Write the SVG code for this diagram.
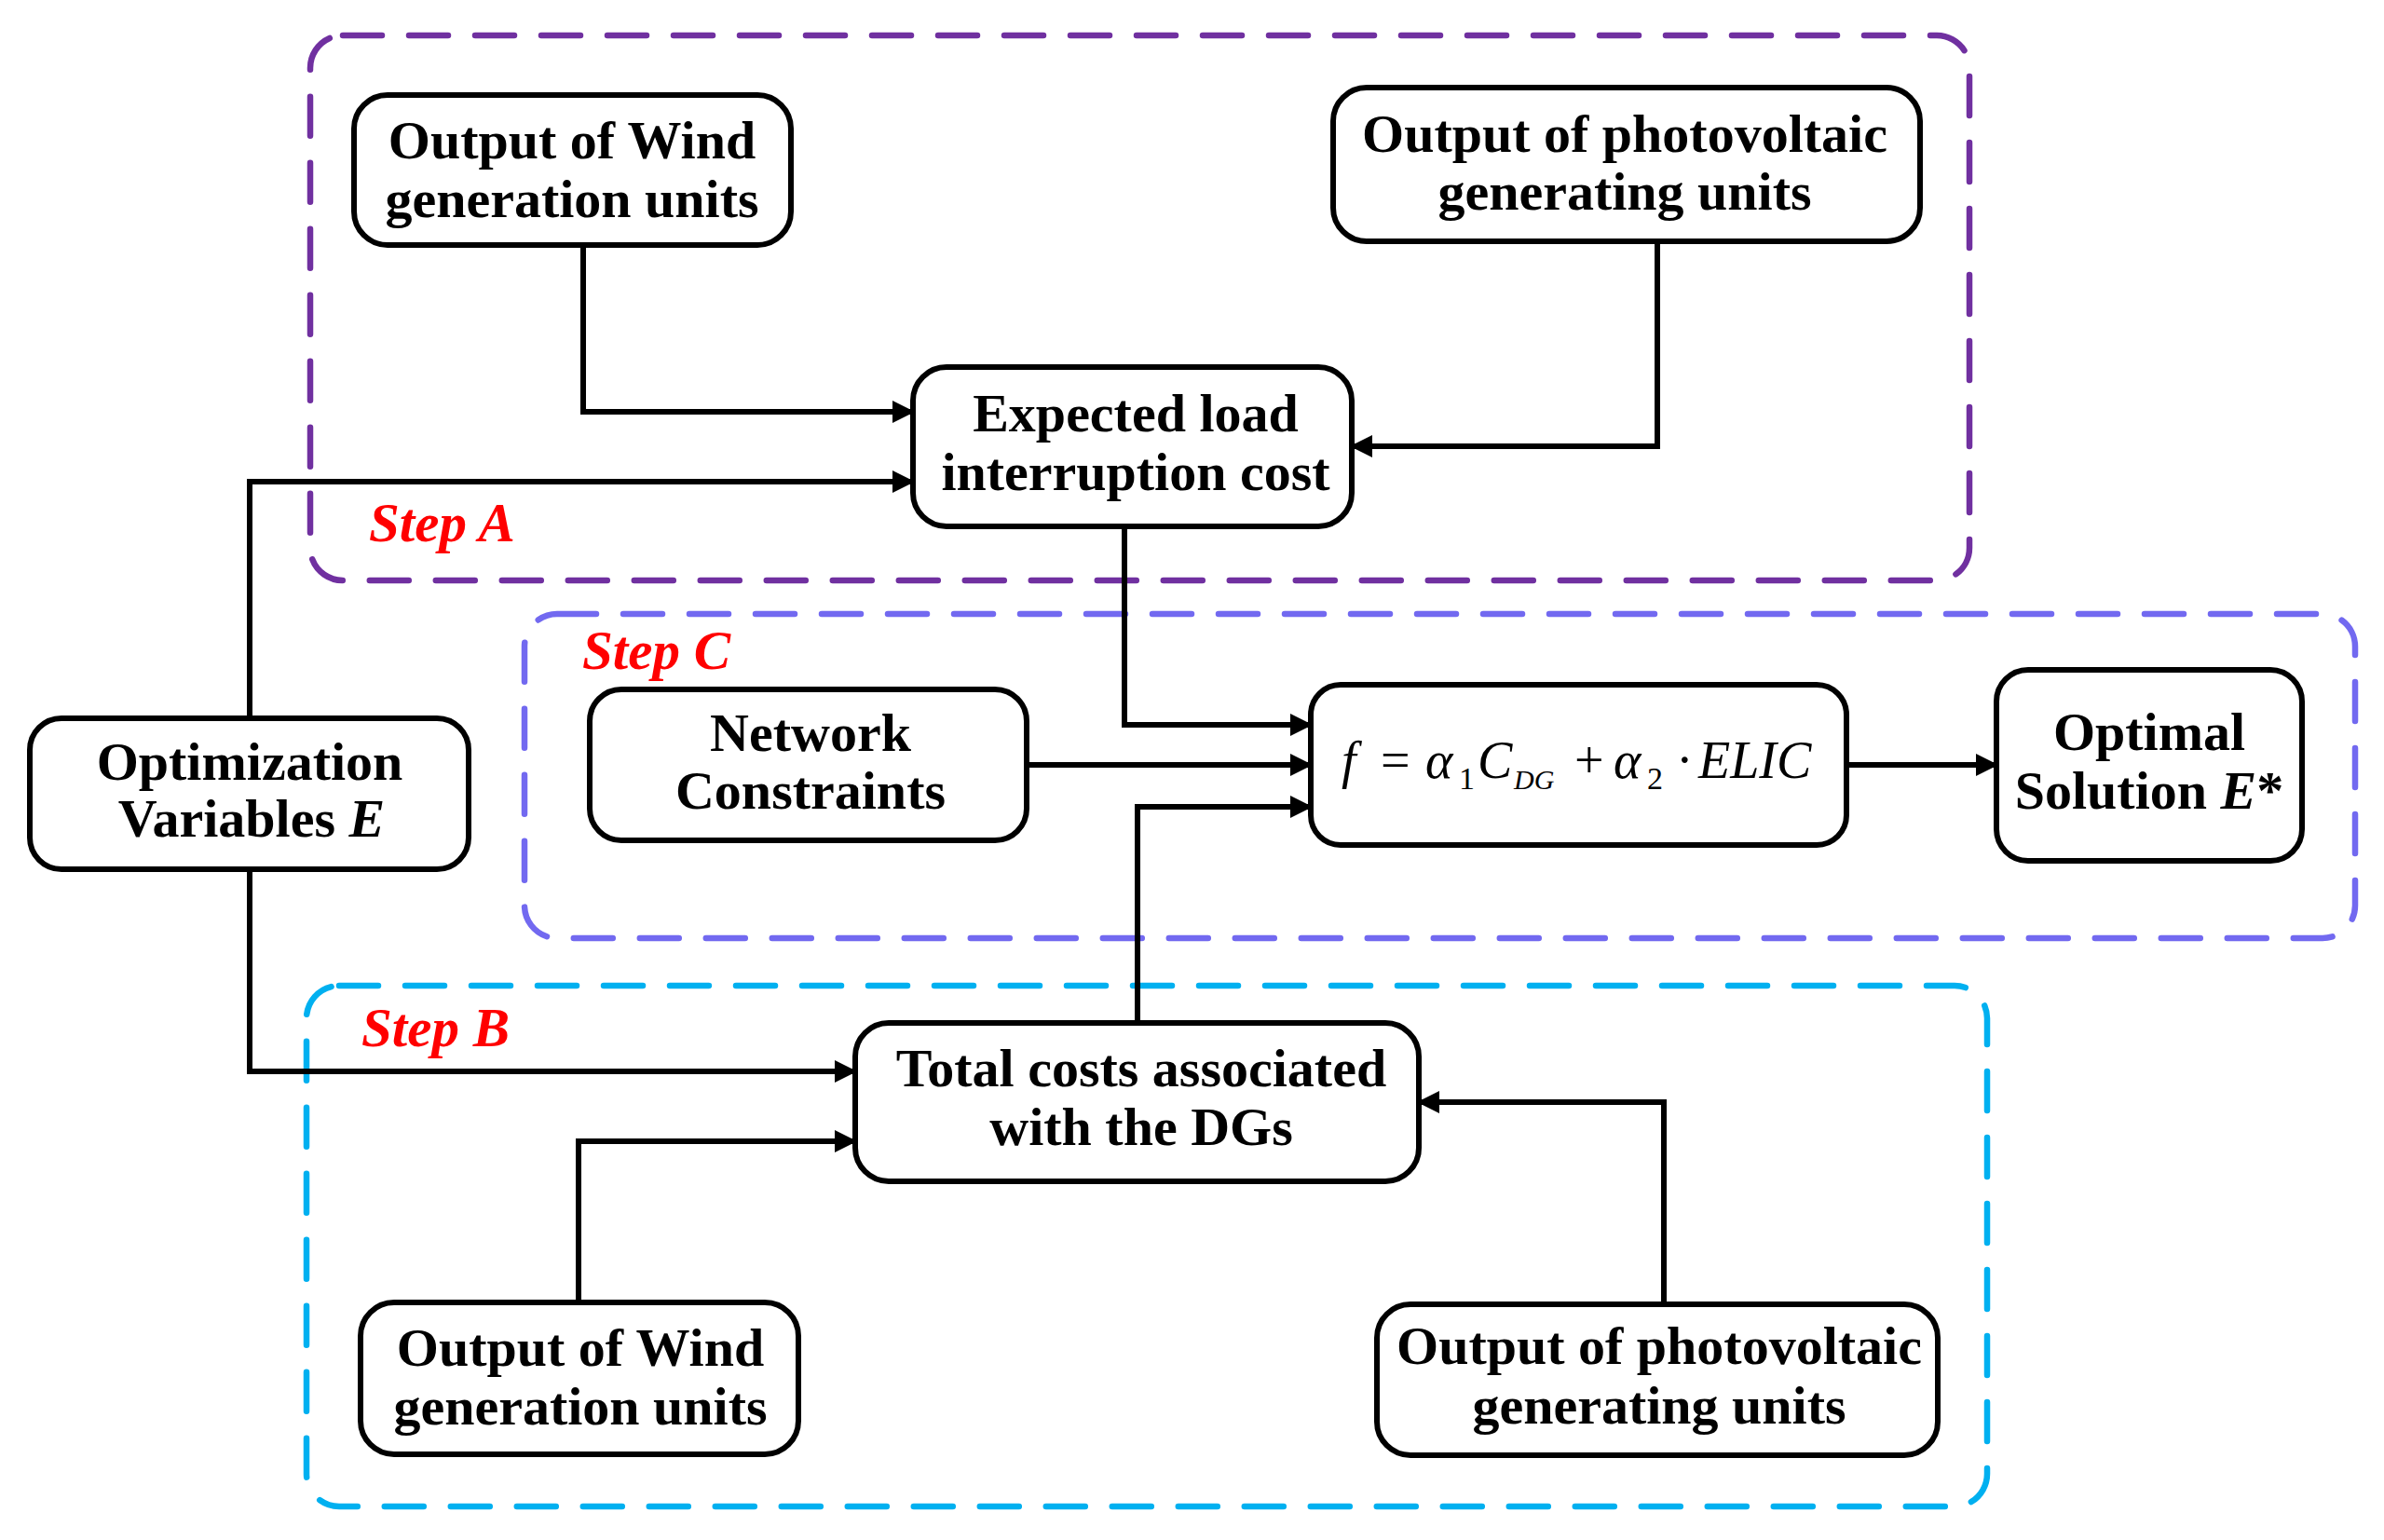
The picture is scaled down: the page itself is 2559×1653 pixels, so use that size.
<svg xmlns="http://www.w3.org/2000/svg" width="2559" height="1653" viewBox="0 0 2559 1653">
<style>
.bg{fill:#ffffff}
.node{fill:#ffffff;stroke:#000000;stroke-width:6}
.lbl{font-family:"Liberation Serif","Times New Roman",serif;font-weight:bold;font-size:58px;fill:#000000;text-anchor:middle}
.step{font-family:"Liberation Serif","Times New Roman",serif;font-weight:bold;font-style:italic;font-size:59px;fill:#ff0000}
.grp{fill:none;stroke-width:6.5;stroke-dasharray:42 29;stroke-linecap:round}
.conn{fill:none;stroke:#000000;stroke-width:6;stroke-linejoin:miter}
.math{font-family:"Liberation Serif","Times New Roman",serif;fill:#000000}
.it{font-style:italic}
</style>
<defs>
<marker id="arrow" markerUnits="userSpaceOnUse" markerWidth="24" markerHeight="24" refX="22" refY="12" orient="auto">
<path d="M0,0 L24,12 L0,24 z" fill="#000000"/>
</marker>
</defs>
<rect class="bg" x="0" y="0" width="2559" height="1653"/>

<g id="groups">
<rect id="stepA-box" class="grp" x="333" y="38" width="1781" height="585" rx="35" ry="35" stroke="#7030A0"/>
<rect id="stepC-box" class="grp" x="563" y="659" width="1965" height="348" rx="35" ry="35" stroke="#7269F0"/>
<rect id="stepB-box" class="grp" x="329" y="1058" width="1804" height="559" rx="35" ry="35" stroke="#00B0F0"/>
<text class="step" x="396" y="581">Step A</text>
<text class="step" x="625" y="718">Step C</text>
<text class="step" x="388" y="1123">Step B</text>
</g>

<g id="connectors">
<path class="conn" d="M626 263 V442 H980" marker-end="url(#arrow)"/>
<path class="conn" d="M1779 259 V479 H1451" marker-end="url(#arrow)"/>
<path class="conn" d="M268 771 V517 H980" marker-end="url(#arrow)"/>
<path class="conn" d="M1207 565 V778 H1407" marker-end="url(#arrow)"/>
<path class="conn" d="M1102 821 H1407" marker-end="url(#arrow)"/>
<path class="conn" d="M1221 1098 V866 H1407" marker-end="url(#arrow)"/>
<path class="conn" d="M1982 821 H2143" marker-end="url(#arrow)"/>
<path class="conn" d="M268 933 V1150 H918" marker-end="url(#arrow)"/>
<path class="conn" d="M621 1398 V1225 H918" marker-end="url(#arrow)"/>
<path class="conn" d="M1786 1400 V1183 H1523" marker-end="url(#arrow)"/>
</g>

<g id="wind-top">
<rect class="node" x="380" y="102" width="469" height="161" rx="36" ry="36"/>
<text class="lbl" x="614" y="170">Output of Wind</text>
<text class="lbl" x="614" y="233">generation units</text>
</g>

<g id="pv-top">
<rect class="node" x="1431" y="94" width="630" height="165" rx="36" ry="36"/>
<text class="lbl" x="1744" y="163">Output of photovoltaic</text>
<text class="lbl" x="1744" y="225">generating units</text>
</g>

<g id="expected-cost">
<rect class="node" x="980" y="394" width="471" height="171" rx="36" ry="36"/>
<text class="lbl" x="1219" y="463">Expected load</text>
<text class="lbl" x="1219" y="526">interruption cost</text>
</g>

<g id="optimization-variables">
<rect class="node" x="32" y="771" width="471" height="162" rx="34" ry="34"/>
<text class="lbl" x="268" y="837">Optimization</text>
<text class="lbl" x="270" y="898">Variables <tspan font-style="italic">E</tspan></text>
</g>

<g id="network-constraints">
<rect class="node" x="633" y="740" width="469" height="162" rx="34" ry="34"/>
<text class="lbl" x="870" y="806">Network</text>
<text class="lbl" x="870" y="868">Constraints</text>
</g>

<g id="objective">
<rect class="node" x="1407" y="735" width="575" height="172" rx="32" ry="32"/>
<text class="math it" x="1440" y="835" font-size="56">f</text>
<text class="math" x="1482" y="835" font-size="56">=</text>
<text class="math it" x="1530" y="835" font-size="56">α</text>
<text class="math" x="1566" y="847" font-size="34">1</text>
<text class="math it" x="1586" y="835" font-size="56">C</text>
<text class="math it" x="1625" y="847" font-size="30">DG</text>
<text class="math" x="1690" y="835" font-size="56">+</text>
<text class="math it" x="1732" y="835" font-size="56">α</text>
<text class="math" x="1768" y="847" font-size="34">2</text>
<text class="math" x="1799" y="835" font-size="56">·</text>
<text class="math it" x="1823" y="835" font-size="56">ELIC</text>
</g>

<g id="optimal-solution">
<rect class="node" x="2143" y="719" width="328" height="205" rx="34" ry="34"/>
<text class="lbl" x="2307" y="805">Optimal</text>
<text class="lbl" x="2307" y="868">Solution <tspan font-style="italic">E</tspan>*</text>
</g>

<g id="total-costs">
<rect class="node" x="918" y="1098" width="605" height="170" rx="36" ry="36"/>
<text class="lbl" x="1225" y="1166">Total costs associated</text>
<text class="lbl" x="1225" y="1229">with the DGs</text>
</g>

<g id="wind-bottom">
<rect class="node" x="387" y="1398" width="470" height="163" rx="36" ry="36"/>
<text class="lbl" x="623" y="1466">Output of Wind</text>
<text class="lbl" x="623" y="1529">generation units</text>
</g>

<g id="pv-bottom">
<rect class="node" x="1478" y="1400" width="602" height="162" rx="36" ry="36"/>
<text class="lbl" x="1781" y="1464">Output of photovoltaic</text>
<text class="lbl" x="1781" y="1528">generating units</text>
</g>
</svg>
